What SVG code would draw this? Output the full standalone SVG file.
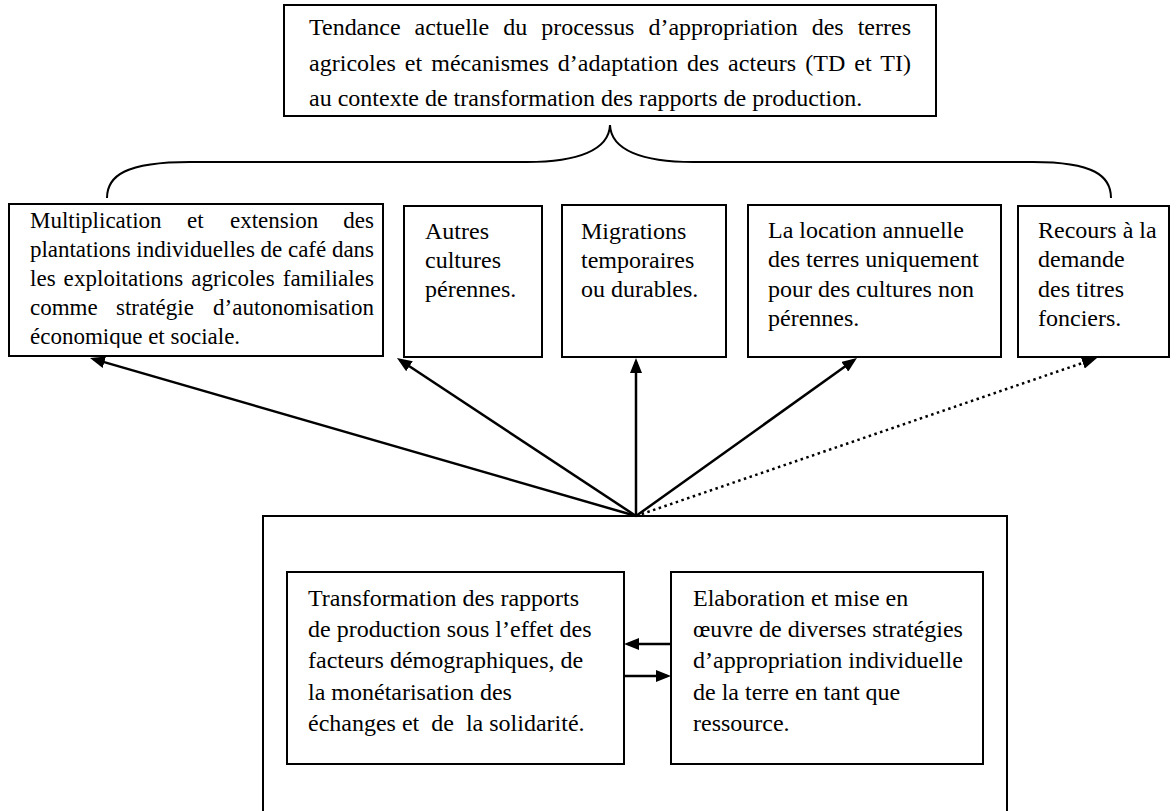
<svg xmlns="http://www.w3.org/2000/svg" width="1176" height="811" viewBox="0 0 1176 811">
<style>
  .box { fill: #fff; stroke: #000; stroke-width: 2; }
  .t { font-family: "Liberation Serif", "Times New Roman", serif; font-size: 24px; fill: #000; }
  .s { font-size: 23px; }
  .c { fill: none; stroke: #000; stroke-width: 2.5; }
  .dot { fill: none; stroke: #000; stroke-width: 2.5; stroke-dasharray: 2.5 3.5; }
  .brace { fill: none; stroke: #000; stroke-width: 2; }
</style>
<defs>
  <marker id="ah" viewBox="0 0 15 12" refX="11" refY="6" markerWidth="15" markerHeight="12" orient="auto" markerUnits="userSpaceOnUse">
    <path d="M0,0 L15,6 L0,12 z" fill="#000"/>
  </marker>
  <clipPath id="clip1"><rect x="8" y="204" width="377" height="144"/></clipPath>
</defs>
<rect width="1176" height="811" fill="#fff"/>

<g id="top">
  <rect class="box" x="284" y="5" width="652" height="111"/>
  <text class="t" x="309" y="35" word-spacing="8" textLength="602" lengthAdjust="spacing">Tendance actuelle du processus d’appropriation des terres</text>
  <text class="t" x="309" y="71" word-spacing="3" textLength="602" lengthAdjust="spacing">agricoles et mécanismes d’adaptation des acteurs (TD et TI)</text>
  <text class="t" x="309" y="106">au contexte de transformation des rapports de production.</text>
</g>

<path id="brace" class="brace" d="M107,198 C107,176 125,162 190,162 L527,162 C578,162 609,150 610,125 C611,150 642,162 693,162 L1033,162 C1094,162 1111,176 1111,198"/>

<g id="n1">
  <rect class="box" x="9" y="204" width="374" height="152"/>
  <g clip-path="url(#clip1)">
    <text class="t s" y="228"><tspan x="30">Multiplication</tspan><tspan x="187">et</tspan><tspan x="230">extension</tspan><tspan x="374" text-anchor="end">des</tspan></text>
    <text class="t s" x="30" y="257" textLength="344" lengthAdjust="spacing">plantations individuelles de café dans</text>
    <text class="t s" x="30" y="286" word-spacing="2" textLength="344" lengthAdjust="spacing">les exploitations agricoles familiales</text>
    <text class="t s" y="315"><tspan x="30">comme</tspan><tspan x="116">stratégie</tspan><tspan x="374" text-anchor="end">d’autonomisation</tspan></text>
    <text class="t s" x="30" y="344">économique et sociale.</text>
  </g>
</g>

<g id="n2">
  <rect class="box" x="404" y="206" width="138" height="151"/>
  <text class="t" x="425" y="239">Autres</text>
  <text class="t" x="425" y="268">cultures</text>
  <text class="t" x="425" y="297">pérennes.</text>
</g>

<g id="n3">
  <rect class="box" x="562" y="205" width="164" height="152"/>
  <text class="t" x="581" y="239">Migrations</text>
  <text class="t" x="581" y="268">temporaires</text>
  <text class="t" x="581" y="297">ou durables.</text>
</g>

<g id="n4">
  <rect class="box" x="748" y="205" width="253" height="152"/>
  <text class="t" x="768" y="238">La location annuelle</text>
  <text class="t" x="768" y="267">des terres uniquement</text>
  <text class="t" x="768" y="297">pour des cultures non</text>
  <text class="t" x="768" y="326">pérennes.</text>
</g>

<g id="n5">
  <rect class="box" x="1018" y="206" width="151" height="151"/>
  <text class="t" x="1038" y="238">Recours à la</text>
  <text class="t" x="1038" y="267">demande</text>
  <text class="t" x="1038" y="297">des titres</text>
  <text class="t" x="1038" y="326">fonciers.</text>
</g>

<g id="bottom">
  <rect class="box" x="263" y="516" width="744" height="310"/>
</g>

<g id="n6">
  <rect class="box" x="287" y="572" width="337" height="192"/>
  <text class="t" x="308" y="606">Transformation des rapports</text>
  <text class="t" x="308" y="637">de production sous l’effet des</text>
  <text class="t" x="308" y="668">facteurs démographiques, de</text>
  <text class="t" x="308" y="700">la monétarisation des</text>
  <text class="t" x="308" y="731" xml:space="preserve">échanges et  de  la solidarité.</text>
</g>

<g id="n7">
  <rect class="box" x="671" y="572" width="312" height="192"/>
  <text class="t" x="693" y="606">Elaboration et mise en</text>
  <text class="t" x="693" y="637">œuvre de diverses stratégies</text>
  <text class="t" x="693" y="668">d’appropriation individuelle</text>
  <text class="t" x="693" y="700">de la terre en tant que</text>
  <text class="t" x="693" y="731">ressource.</text>
</g>

<g id="connectors">
  <line class="c" x1="636" y1="516" x2="93.8" y2="359.1" marker-end="url(#ah)"/>
  <line class="c" x1="636" y1="516" x2="400.3" y2="360.2" marker-end="url(#ah)"/>
  <line class="c" x1="636" y1="516" x2="636" y2="362" marker-end="url(#ah)"/>
  <line class="c" x1="636" y1="516" x2="853.7" y2="360.3" marker-end="url(#ah)"/>
  <line class="dot" x1="636" y1="516" x2="1093.2" y2="359.3" marker-end="url(#ah)"/>
  <line class="c" x1="671" y1="644" x2="628" y2="644" marker-end="url(#ah)"/>
  <line class="c" x1="624" y1="676" x2="667" y2="676" marker-end="url(#ah)"/>
</g>
</svg>
